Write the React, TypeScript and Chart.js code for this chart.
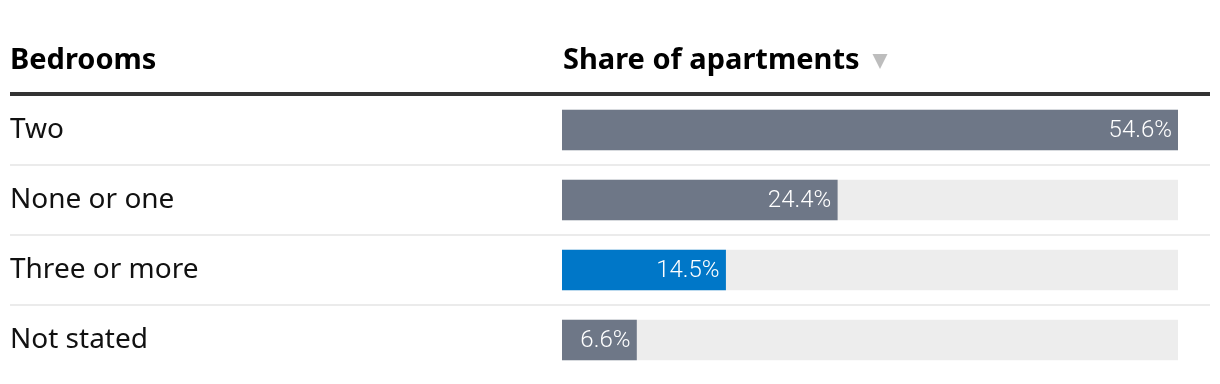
import React, { useEffect, useRef } from "react";
import { Chart, registerables } from "chart.js";

Chart.register(...registerables);

const categories: string[] = ["Two", "None or one", "Three or more", "Not stated"];
const shares: number[] = [54.6, 24.4, 14.5, 6.6];
const barColors: string[] = ["#6e7787", "#6e7787", "#0077c8", "#6e7787"];
const trackValues: number[] = [54.6, 54.6, 54.6, 54.6];
const headerLeft = "Bedrooms";
const headerRight = "Share of apartments";

const FONT = "'Noto Sans', sans-serif";

const tablePlugin = {
  id: "tablePlugin",
  afterDraw(chart: any) {
    const ctx = chart.ctx;
    const yScale = chart.scales.y;
    ctx.save();
    // header
    ctx.fillStyle = "#000";
    ctx.font = `bold 29px ${FONT}`;
    ctx.textBaseline = "alphabetic";
    ctx.textAlign = "left";
    ctx.fillText(headerLeft, 10, 69);
    ctx.fillText(headerRight, 563, 69);
    const w = ctx.measureText(headerRight).width;
    const tx = 563 + w + 13;
    ctx.fillStyle = "#bdbdbd";
    ctx.beginPath();
    ctx.moveTo(tx, 54);
    ctx.lineTo(tx + 15, 54);
    ctx.lineTo(tx + 7.5, 69);
    ctx.closePath();
    ctx.fill();
    // thick rule
    ctx.fillStyle = "#333";
    ctx.fillRect(10, 92, 1200, 4);
    // separators
    ctx.fillStyle = "#ebebeb";
    for (let i = 0; i < categories.length - 1; i++) {
      const y = (yScale.getPixelForValue(i) + yScale.getPixelForValue(i + 1)) / 2;
      ctx.fillRect(10, Math.round(y) - 1, 1200, 2);
    }
    // value labels
    const meta = chart.getDatasetMeta(0);
    ctx.font = `300 24px Roboto, sans-serif`;
    ctx.fillStyle = "#fff";
    ctx.textAlign = "right";
    ctx.textBaseline = "middle";
    meta.data.forEach((el: any, i: number) => {
      ctx.fillText(shares[i].toFixed(1) + "%", el.x - 6, el.y + 1);
    });
    ctx.restore();
  },
};

export default function App() {
  const ref = useRef<HTMLCanvasElement | null>(null);
  useEffect(() => {
    document.body.style.margin = "0";
    const chart = new Chart(ref.current as HTMLCanvasElement, {
      type: "bar",
      data: {
        labels: categories,
        datasets: [
          {
            data: shares,
            backgroundColor: barColors,
            barThickness: 40,
            grouped: false,
            order: 1,
          } as any,
          {
            data: trackValues,
            backgroundColor: "#ededed",
            barThickness: 40,
            grouped: false,
            order: 2,
          } as any,
        ],
      },
      options: {
        indexAxis: "y",
        animation: false,
        responsive: false,
        maintainAspectRatio: false,
        layout: { padding: { top: 95, right: 42, bottom: 9, left: 10 } },
        plugins: { legend: { display: false }, tooltip: { enabled: false } },
        scales: {
          x: { display: false, min: 0, max: 54.6 },
          y: {
            border: { display: false },
            grid: { display: false },
            afterFit(scale: any) {
              scale.width = 552;
              scale.paddingTop = 0;
              scale.paddingBottom = 0;
            },
            ticks: {
              crossAlign: "far",
              padding: 0,
              color: "#111",
              font: { family: "'Noto Sans', sans-serif", size: 28 },
            },
          },
        },
      },
      plugins: [tablePlugin],
    });
    return () => chart.destroy();
  }, []);
  return (
    <div style={{ position: "absolute", left: 0, top: 0, width: 1220, height: 384 }}>
      <canvas ref={ref} width={1220} height={384} />
    </div>
  );
}
